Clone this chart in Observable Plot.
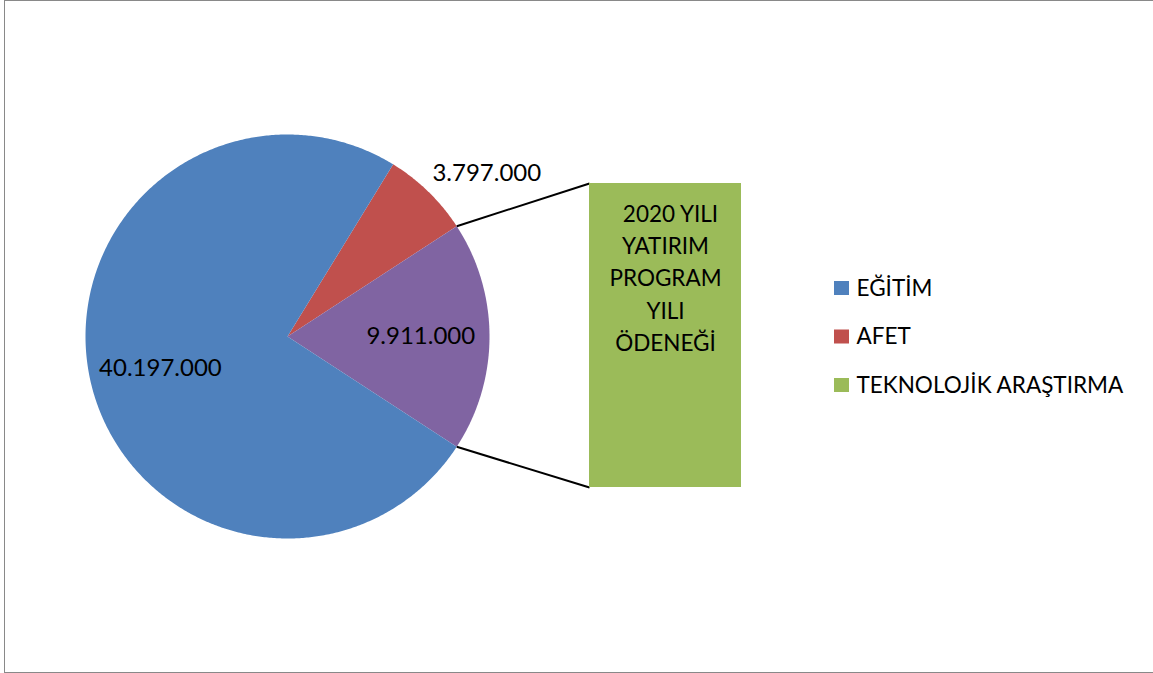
<!DOCTYPE html>
<html><head><meta charset="utf-8">
<script src="https://cdn.jsdelivr.net/npm/d3@7"></script>
<script src="https://cdn.jsdelivr.net/npm/@observablehq/plot@0.6"></script>
<style>
body{margin:0;background:#fff;overflow:hidden}
#chart{position:absolute;left:0;top:0}
#frame{position:absolute;left:4px;top:0;width:1170px;height:673px;border:1.5px solid #898989;box-sizing:border-box;pointer-events:none}
</style></head><body><div id="chart"></div><div id="frame"></div>
<script>
// ---- data ----
const categories = ["EĞİTİM", "AFET", "TEKNOLOJİK ARAŞTIRMA"];
const values = [40197000, 3797000, 9911000];
const colors = ["#4F81BD", "#C0504D", "#9BBB59"];
const otherColor = "#8064A2";
const barTitle = ["2020 YILI", "YATIRIM", "PROGRAM", "YILI", "ÖDENEĞİ"];

// ---- layout ----
const W = 1153, H = 673;
const cx = 287, cy = 336, R = 202;
const barX1 = 589, barX2 = 741, barMid = 335, barH = 304;
const FONT = "Lato";
const FS = 24, FS2 = 22.5;
const fmt = v => d3.format(",")(v).replace(/,/g, ".");

const total = d3.sum(values);
const deg = v => v / total * 360;
// pie slices in clockwise order: AFET, other (bar series), EĞİTİM ; other centred at east
const aOther = deg(values[2]), aRed = deg(values[1]), aBlue = deg(values[0]);
const startRed = 90 - aOther / 2 - aRed;
const slices = [
  {key: "AFET", value: values[1], color: colors[1], a0: startRed, a1: startRed + aRed},
  {key: "OTHER", value: values[2], color: otherColor, a0: startRed + aRed, a1: startRed + aRed + aOther},
  {key: "EĞİTİM", value: values[0], color: colors[0], a0: startRed + aRed + aOther, a1: startRed + 360}
];
const pt = (a, r) => ({x: cx + r * Math.sin(a * Math.PI / 180), y: cy - r * Math.cos(a * Math.PI / 180)});
function polygon(s) {
  const pts = [{x: cx, y: cy}];
  const n = Math.max(2, Math.ceil((s.a1 - s.a0) / 0.5));
  for (let i = 0; i <= n; i++) pts.push(pt(s.a0 + (s.a1 - s.a0) * i / n, R));
  pts.push({x: cx, y: cy});
  return pts;
}
const otherS = slices[1];
const pTop = pt(otherS.a0, R), pBot = pt(otherS.a1, R);
const barY1 = barMid - barH / 2, barY2 = barMid + barH / 2;

const blueMid = pt((slices[2].a0 + slices[2].a1) / 2, 0.65 * R);
const otherMid = pt((otherS.a0 + otherS.a1) / 2, 0.66 * R);
const redEdge = pt((slices[0].a0 + slices[0].a1) / 2, R);

const legendY = categories.map((c, i) => 288 + i * 48.5);

const marks = [];
for (const s of slices) {
  marks.push(Plot.line(polygon(s), {x: "x", y: "y", fill: s.color, stroke: "none", curve: "linear"}));
}
marks.push(
  Plot.link([{x1: pTop.x, y1: pTop.y, x2: barX1, y2: barY1}, {x1: pBot.x, y1: pBot.y, x2: barX1, y2: barY2}],
    {x1: "x1", y1: "y1", x2: "x2", y2: "y2", stroke: "#000", strokeWidth: 2}),
  Plot.rect([{v: values[2]}], {x1: () => barX1, x2: () => barX2, y1: () => barY1, y2: () => barY2, fill: colors[2]}),
  Plot.text(barTitle, {x: (d, i) => (barX1 + barX2) / 2 + (i === 0 ? 5 : 0), y: (d, i) => 214 + i * 32.3, text: d => d,
    fontSize: FS2, fontFamily: FONT, fill: "#000", textAnchor: "middle"}),
  Plot.text([slices[2]], {x: () => blueMid.x + 1, y: () => blueMid.y + 3, text: d => fmt(d.value), fontSize: FS, fontFamily: FONT, fill: "#000"}),
  Plot.text([otherS], {x: () => otherMid.x, y: () => otherMid.y, text: d => fmt(d.value), fontSize: FS, fontFamily: FONT, fill: "#000"}),
  Plot.text([slices[0]], {x: () => redEdge.x + 4, y: () => redEdge.y - 18.5, text: d => fmt(d.value), textAnchor: "start", fontSize: FS, fontFamily: FONT, fill: "#000"}),
  Plot.rect(categories, {x1: () => 834, x2: () => 849, y1: (d, i) => legendY[i] - 7, y2: (d, i) => legendY[i] + 7, fill: (d, i) => colors[i]}),
  Plot.text(categories, {x: () => 856, y: (d, i) => legendY[i], text: d => d, textAnchor: "start", fontSize: FS2, fontFamily: FONT, fill: "#000"})
);

const plot = Plot.plot({
  width: W, height: H, margin: 0,
  x: {domain: [0, W], range: [0, W], axis: null},
  y: {domain: [0, H], range: [0, H], axis: null},
  color: {type: "identity"},
  style: {background: "transparent"},
  marks
});
document.getElementById("chart").appendChild(plot);
</script>
</body></html>
